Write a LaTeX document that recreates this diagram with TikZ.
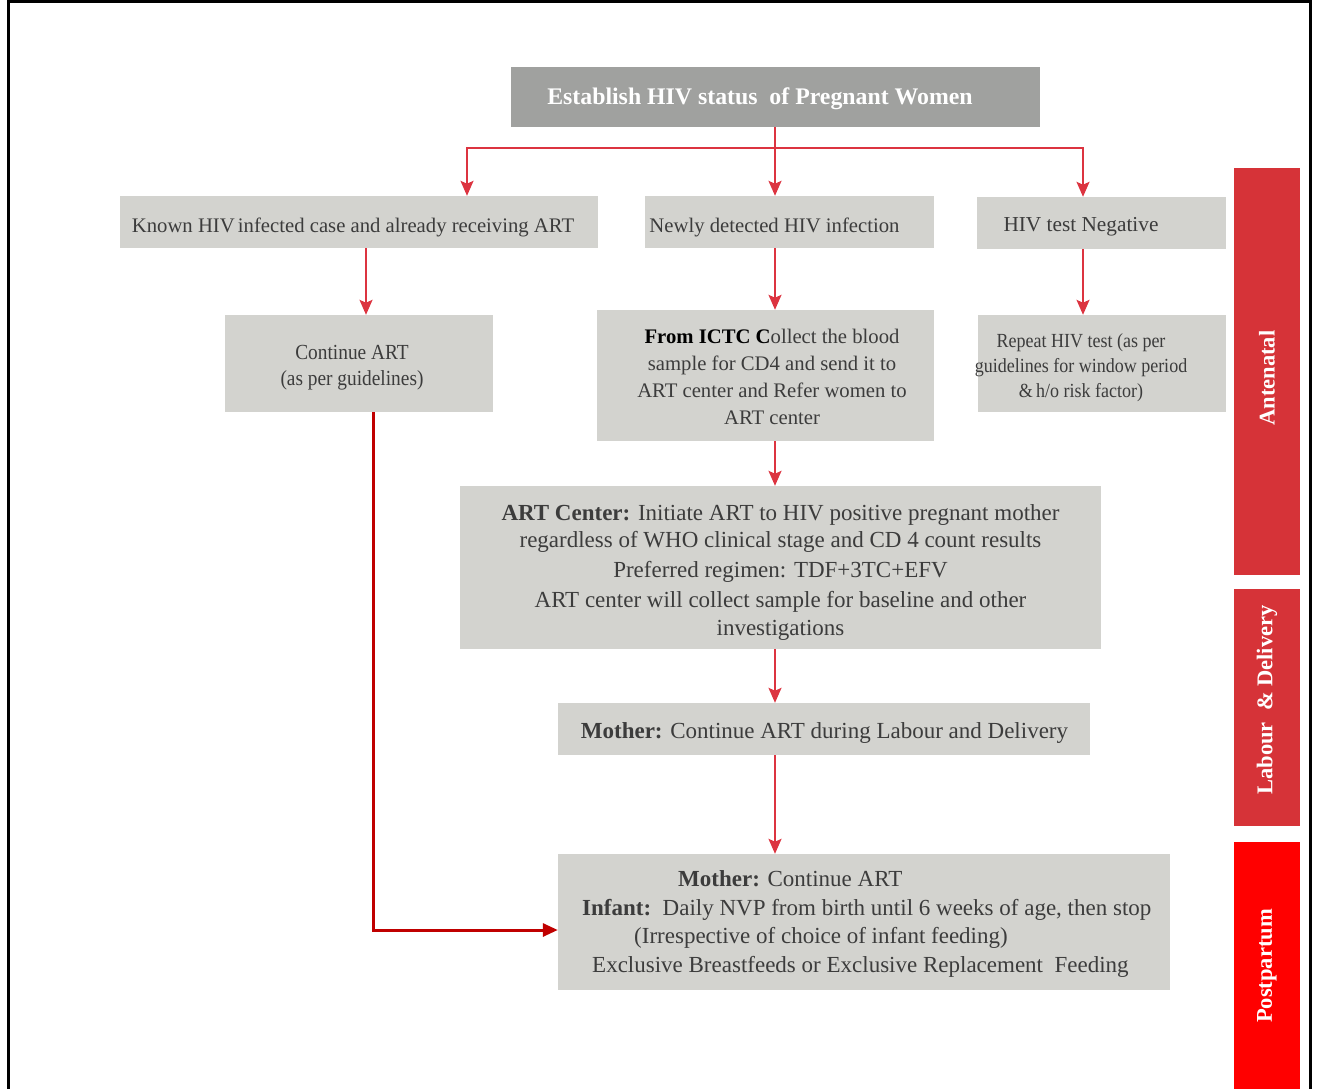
\documentclass[tikz,border=0pt]{standalone}
\usepackage{fontspec}
\setmainfont{Liberation Serif}
\newfontfamily\condfont[FakeStretch=0.9]{Liberation Serif}
\usetikzlibrary{arrows.meta}
\definecolor{boxgrey}{HTML}{D3D3CF}
\definecolor{topgrey}{HTML}{A0A19F}
\definecolor{textgrey}{HTML}{3C3C3C}
\definecolor{arrowred}{HTML}{DC3440}
\definecolor{darkred}{HTML}{C00000}
\definecolor{barred}{HTML}{D63338}
\definecolor{ppred}{HTML}{FF0000}
\begin{document}
\begin{tikzpicture}[x=1pt,y=-1pt,
  box/.style={fill=boxgrey, inner sep=0pt, draw=none},
  bar/.style={inner sep=0pt, draw=none, minimum width=66pt},
  txt/.style={text=textgrey, inner sep=0pt, align=center},
  bartxt/.style={text=white, inner sep=0pt, rotate=90, font=\fontsize{22.5}{26}\selectfont\bfseries},
  arr/.style={draw=arrowred, line width=2pt, -{Stealth[length=15pt,width=13pt,inset=3pt]}},
  arrline/.style={draw=arrowred, line width=2pt},
  arrdark/.style={draw=darkred, line width=3pt, -{Triangle[length=15pt,width=13pt]}},
  fa/.style={font=\fontsize{20.7}{27}\selectfont},
  fb/.style={font=\fontsize{23}{27.5}\selectfont}
]
\useasboundingbox (0,0) rectangle (1331,1089);

% frame
\draw[line width=3pt, line cap=rect] (8,1095) -- (8,2) -- (1310,2) -- (1310,1095);

% boxes
\node[box, fill=topgrey, minimum width=529pt, minimum height=60pt] (top) at (775.5,97) {};
\node[box, minimum width=478pt, minimum height=52pt] (known) at (359,222) {};
\node[box, minimum width=289pt, minimum height=52pt] (newly) at (789.5,222) {};
\node[box, minimum width=249pt, minimum height=52pt] (neg) at (1101.5,223) {};
\node[box, minimum width=268pt, minimum height=97pt] (cont) at (359,363.5) {};
\node[box, minimum width=337pt, minimum height=131pt] (ictc) at (765.5,375.5) {};
\node[box, minimum width=248pt, minimum height=97pt] (rep) at (1102,363.5) {};
\node[box, minimum width=641pt, minimum height=163pt] (art) at (780.5,567.5) {};
\node[box, minimum width=532pt, minimum height=52pt] (mom) at (824,729) {};
\node[box, minimum width=612pt, minimum height=136pt] (pp) at (864,922) {};

% side bars
\node[bar, fill=barred, minimum height=407pt] (ante) at (1267,371.5) {};
\node[bar, fill=barred, minimum height=237pt] (ld) at (1267,707.5) {};
\node[bar, fill=ppred, minimum height=260pt] (post) at (1267,972) {};
\node[bartxt] (ante-t) at (1267,378) {Antenatal};
\node[bartxt] (ld-t) at (1267,700) {Labour~~\& Delivery};
\node[bartxt] (post-t) at (1267,966) {Postpartum};

% texts
\node[txt, text=white, font=\fontsize{23.8}{27}\selectfont\bfseries] (top-t) at (760,99) {Establish HIV status~~of Pregnant Women};
\node[txt, fa] (known-t) at (353,227) {Known HIV\hspace{-2pt} infected case and already receiving ART};
\node[txt, fa] (newly-t) at (774.5,227) {Newly detected HIV infection};
\node[txt, font=\fontsize{21.3}{27}\selectfont] (neg-t) at (1081,227) {HIV test Negative};
\node[txt, font=\fontsize{21.5}{26}\condfont] (cont-t) at (352,367.5) {Continue ART\\(as per guidelines)};
\node[txt, fa] (ictc-t) at (772,376.5) {\textcolor{black}{\textbf{From ICTC C}}ollect the blood\\sample for CD4 and send it to\\ART center and Refer women to\\ART center};
\node[txt, font=\fontsize{20}{25}\condfont] (rep-t) at (1081,367.5) {Repeat HIV test (as per\\guidelines for window period\\\&\,h/o risk factor)};
\node[txt, fb] (art-t) at (780.5,572) {\textbf{ART Center:} Initiate ART to HIV positive pregnant mother\\regardless of WHO clinical stage and CD 4 count results\\[2.5pt]Preferred regimen: TDF+3TC+EFV\\[2.5pt]ART center will collect sample for baseline and other\\investigations};
\node[txt, fb] (mom-t) at (824.5,733) {\textbf{Mother:} Continue ART during Labour and Delivery};
\node[txt, font=\fontsize{23}{28.5}\selectfont, align=left, anchor=west] (pp-t) at (582,924) {\hspace*{96pt}\textbf{Mother:} Continue ART\\\textbf{Infant:}~~Daily NVP from birth until 6 weeks of age, then stop\\\hspace*{52pt}(Irrespective of choice of infant feeding)\\\hspace*{10pt}Exclusive Breastfeeds or Exclusive Replacement~~Feeding};

% connectors
\coordinate (split) at (775,148);
\coordinate (splitR) at (1083,148);
\draw[arrline] (top.south -| split) -- (split);
\draw[arr] (split) -| ([xshift=108pt]known.north);
\draw[arr] (split) -- (newly.north -| split);
\draw[arr] (split) -- (splitR) -- (neg.north -| splitR);
\draw[arr] ([xshift=7pt]known.south) -- ([xshift=7pt]cont.north);
\draw[arr] (newly.south -| split) -- (ictc.north -| split);
\draw[arr] (neg.south -| splitR) -- (rep.north -| splitR);
\draw[arr] (ictc.south -| split) -- (art.north -| split);
\draw[arr] (art.south -| split) -- (mom.north -| split);
\draw[arr] (mom.south -| split) -- (pp.north -| split);
\draw[arrdark] ([xshift=14pt]cont.south) |- ([yshift=-8pt]pp.west);
\end{tikzpicture}
\end{document}
